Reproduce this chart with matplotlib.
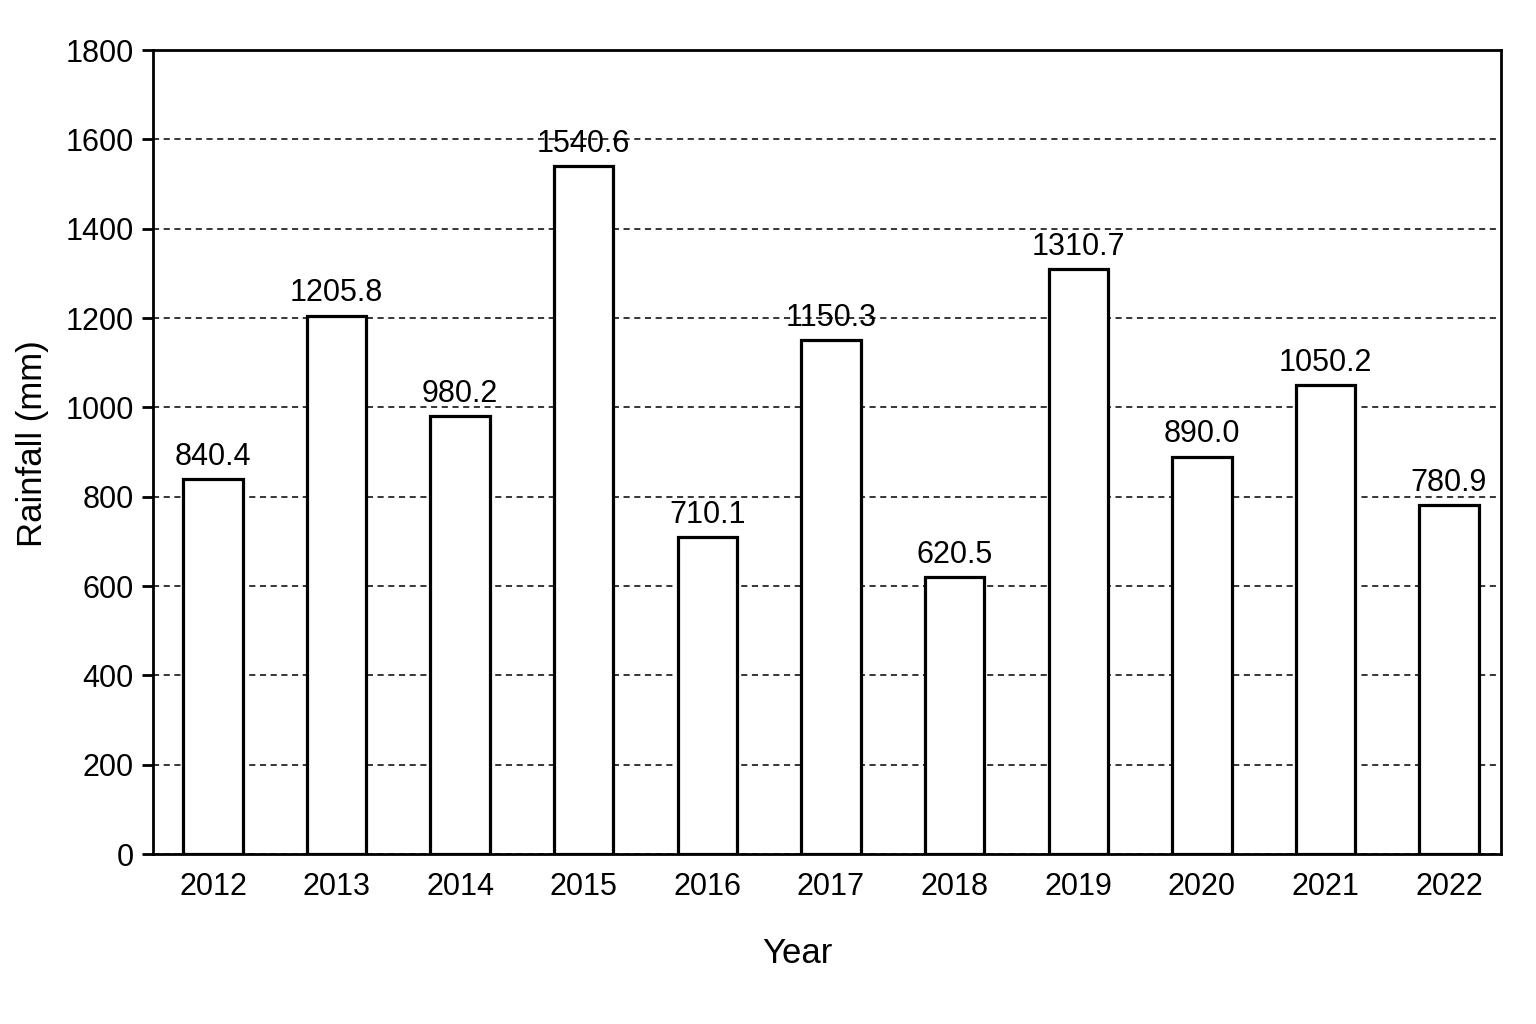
import matplotlib
matplotlib.use('Agg')
import matplotlib.pyplot as plt
import numpy as np

# yearly rainfall
years = ['2012', '2013', '2014', '2015', '2016', '2017', '2018', '2019', '2020', '2021', '2022']
rainfall = [840.4, 1205.8, 980.2, 1540.6, 710.1, 1150.3, 620.5, 1310.7, 890.0, 1050.2, 780.9]
y_ticks = [0, 200, 400, 600, 800, 1000, 1200, 1400, 1600, 1800]

plt.rcParams['font.family'] = ['Liberation Sans', 'DejaVu Sans']

fig = plt.figure(figsize=(15.36, 10.24), dpi=100)
ax = fig.add_axes([0.0996, 0.166, 0.8776, 0.785])

x = np.arange(len(years))
ax.bar(x, rainfall, width=0.48, color='white', edgecolor='black', linewidth=2.3, zorder=3)
for xi, v in zip(x, rainfall):
    ax.text(xi, v + 16, f'{v:.1f}', ha='center', va='bottom', fontsize=22, zorder=4)

ax.set_xlim(-0.485, 10.42)
ax.set_ylim(0, 1800)
ax.set_yticks(y_ticks)
ax.set_xticks(x)
ax.set_xticklabels(years)
ax.tick_params(axis='x', length=0, labelsize=22, pad=13)
ax.tick_params(axis='y', length=8, width=2, labelsize=22, pad=6)
ax.yaxis.grid(True, linestyle='--', color='black', linewidth=1.1, dashes=(4, 3))
ax.set_axisbelow(True)
for s in ax.spines.values():
    s.set_linewidth(2)

ax.set_xlabel('Year', fontsize=25)
ax.set_ylabel('Rainfall (mm)', fontsize=25)
ax.xaxis.set_label_coords(0.478, -0.103)
ax.yaxis.set_label_coords(-0.077, 0.51)

fig.savefig('out.png', dpi=100, facecolor='white')
